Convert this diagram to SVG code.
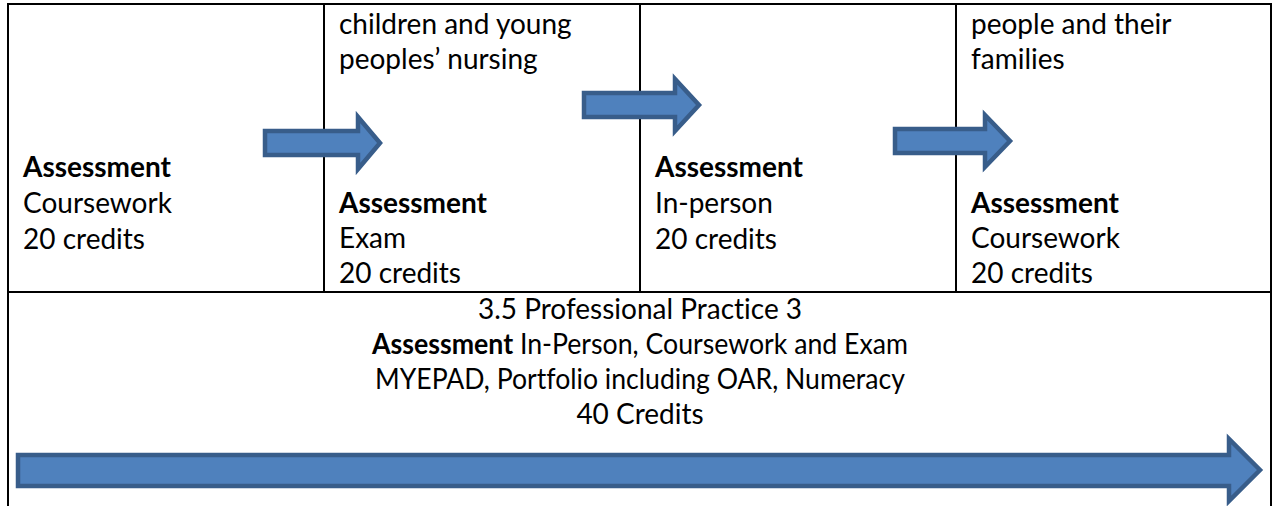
<svg xmlns="http://www.w3.org/2000/svg" width="1275" height="506" viewBox="0 0 1275 506">
<style>
.t{font-family:Lato,"Open Sans","Liberation Sans",sans-serif;font-size:28px;fill:#000;font-variant-ligatures:none;font-feature-settings:"liga" 0}
.b{font-weight:bold}
.c{text-anchor:middle}
.ln{stroke:#000;stroke-width:2;fill:none}
.arr{fill:#4F81BD;stroke:#385D8A;stroke-width:4.5;stroke-linejoin:miter}
</style>
<rect width="1275" height="506" fill="#fff"/>
<g id="table">
<path class="ln" d="M8,506 V4 H1271 V506 M8,292 H1271 M324,4 V292 M640,4 V292 M956,4 V292"/>
</g>
<g id="node1">
<text class="t b" x="23" y="177">Assessment</text>
<text class="t" x="23" y="213">Coursework</text>
<text class="t" x="23" y="249">20 credits</text>
</g>
<g id="node2">
<text class="t" x="339" y="34">children and young</text>
<text class="t" x="339" y="69">peoples’ nursing</text>
<text class="t b" x="339" y="213">Assessment</text>
<text class="t" x="339" y="248">Exam</text>
<text class="t" x="339" y="283">20 credits</text>
</g>
<g id="node3">
<text class="t b" x="655" y="177">Assessment</text>
<text class="t" x="655" y="213">In-person</text>
<text class="t" x="655" y="249">20 credits</text>
</g>
<g id="node4">
<text class="t" x="971" y="34">people and their</text>
<text class="t" x="971" y="69">families</text>
<text class="t b" x="971" y="213">Assessment</text>
<text class="t" x="971" y="248">Coursework</text>
<text class="t" x="971" y="283">20 credits</text>
</g>
<g id="node5">
<text class="t c" x="640" y="319">3.5 Professional Practice 3</text>
<text class="t c" x="640" y="354" textLength="536" lengthAdjust="spacingAndGlyphs"><tspan class="b" font-weight="bold">Assessment</tspan> In-Person, Coursework and Exam</text>
<text class="t c" x="640" y="389" textLength="530" lengthAdjust="spacingAndGlyphs">MYEPAD, Portfolio including OAR, Numeracy</text>
<text class="t c" x="640" y="424">40 Credits</text>
</g>
<g id="connectors">
<polygon class="arr" points="265,131 358,131 358,117 380,143 358,169 358,155 265,155"/>
<polygon class="arr" points="584,93 675,93 675,79 699,105 675,131 675,117 584,117"/>
<polygon class="arr" points="895,129 985,129 985,115 1010,141 985,167 985,153 895,153"/>
<polygon class="arr" points="18,455 1229,455 1229,439 1260,470 1229,501 1229,486 18,486"/>
</g>
</svg>
